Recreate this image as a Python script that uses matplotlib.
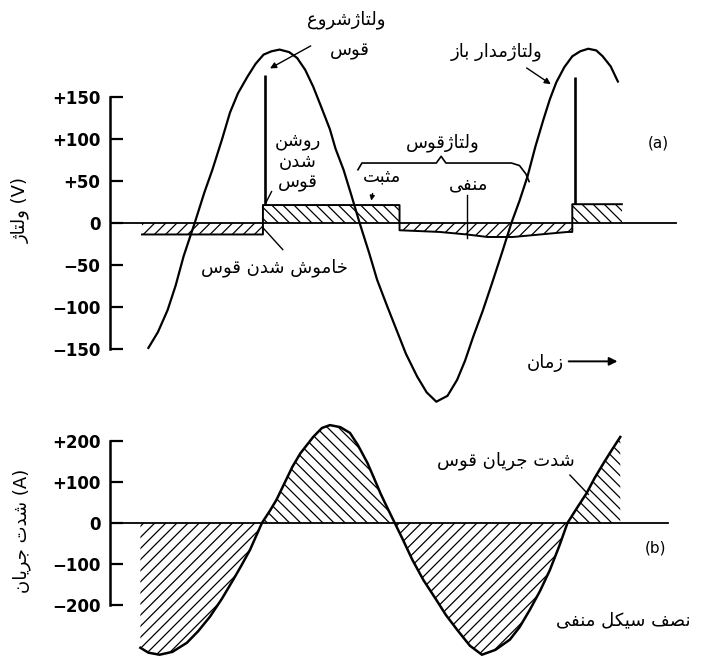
import numpy as np
import matplotlib.pyplot as plt

plt.rcParams['font.family'] = ['DejaVu Sans']
plt.rcParams['hatch.linewidth'] = 0.9

# time axis in ms (no ticks drawn on it)
# open-circuit (supply) voltage, V
t_supply = [2.4, 3.0, 3.6, 4.1, 4.6, 5.3, 5.9, 6.4, 7.0, 7.5, 8.0, 8.6, 9.1, 9.6, 10.1,
            10.6, 11.2, 11.7, 12.2, 12.7, 13.2, 13.75, 14.1, 14.6, 15.1, 15.6,
            16.2, 16.7, 17.3, 17.9, 18.5, 19.2, 19.8, 20.4, 21.1, 21.7, 22.2, 22.7,
            23.3, 23.9, 24.5, 25.1, 25.6, 26.1, 26.6, 27.1, 27.5, 27.9, 28.4, 28.9,
            29.4, 29.9, 30.4, 30.8, 31.3, 31.75]
v_supply = [-149, -130, -104, -75, -40, 0, 36, 63, 99, 131, 154, 174, 189, 200, 204,
            206, 203, 196, 182, 162, 138, 111, 88, 63, 32, 0,
            -36, -68, -98, -127, -156, -183, -202, -213, -206, -187, -164, -136,
            -105, -71, -36, 0, 26, 55, 91, 123, 147, 167, 185, 198,
            204, 207, 205, 198, 186, 168]

# arc voltage, V
t_arc = [2.0, 9.56, 9.56, 18.1, 18.1, 20.6, 22.3, 23.6, 25.2, 26.9, 28.6, 28.9, 28.9, 32.0]
v_arc = [-14, -14, 21, 21, -9, -11, -14, -17, -17, -14, -11, -11, 22, 22]

# re-ignition voltage spikes
t_spike = [9.7, 29.05]
v_spike_base = [21, 22]
v_spike_top = [176, 173]

# arc current, A
t_cur = [1.9, 2.4, 3.1, 3.9, 4.8, 5.5, 6.25, 7.0, 7.7, 8.2, 8.75, 9.5, 10.0, 10.4,
         11.4, 11.9, 12.7, 13.25, 13.75, 14.4, 15.0, 15.5, 16.1, 16.5, 16.9, 17.3,
         17.8, 18.3, 18.9, 19.6, 20.4, 21.0, 21.7, 22.5, 23.25, 24.1, 25.0, 25.6,
         26.25, 26.9, 27.5, 28.1, 28.6, 29.2, 29.8, 30.3, 30.9, 31.4, 31.9]
i_cur = [-305, -317, -322, -315, -293, -265, -229, -185, -139, -105, -66, 0, 30, 56,
         137, 170, 210, 232, 239, 234, 220, 190, 146, 110, 73, 40,
         0, -40, -90, -140, -188, -225, -261, -300, -322, -310, -285, -255,
         -212, -165, -115, -55, 0, 37, 73, 110, 149, 180, 210]

volt_ticks = [-150, -100, -50, 0, 50, 100, 150]
volt_labels = ['−150', '−100', '−50', '0', '+50', '+100', '+150']
cur_ticks = [-200, -100, 0, 100, 200]
cur_labels = ['−200', '−100', '0', '+100', '+200']

# simple persian shaping (matplotlib does no arabic shaping)
FORMS = {
    'ا': (0xFE8D, 0xFE8E), 'د': (0xFEA9, 0xFEAA), 'ر': (0xFEAD, 0xFEAE),
    'ز': (0xFEAF, 0xFEB0), 'ژ': (0xFB8A, 0xFB8B), 'و': (0xFEED, 0xFEEE),
    'ب': (0xFE8F, 0xFE90, 0xFE91, 0xFE92), 'ت': (0xFE95, 0xFE96, 0xFE97, 0xFE98),
    'ث': (0xFE99, 0xFE9A, 0xFE9B, 0xFE9C), 'ج': (0xFE9D, 0xFE9E, 0xFE9F, 0xFEA0),
    'خ': (0xFEA5, 0xFEA6, 0xFEA7, 0xFEA8), 'س': (0xFEB1, 0xFEB2, 0xFEB3, 0xFEB4),
    'ش': (0xFEB5, 0xFEB6, 0xFEB7, 0xFEB8), 'ص': (0xFEB9, 0xFEBA, 0xFEBB, 0xFEBC),
    'ع': (0xFEC9, 0xFECA, 0xFECB, 0xFECC), 'ف': (0xFED1, 0xFED2, 0xFED3, 0xFED4),
    'ق': (0xFED5, 0xFED6, 0xFED7, 0xFED8), 'ل': (0xFEDD, 0xFEDE, 0xFEDF, 0xFEE0),
    'م': (0xFEE1, 0xFEE2, 0xFEE3, 0xFEE4), 'ن': (0xFEE5, 0xFEE6, 0xFEE7, 0xFEE8),
    'ک': (0xFB8E, 0xFB8F, 0xFB90, 0xFB91), 'ی': (0xFBFC, 0xFBFD, 0xFBFE, 0xFBFF),
}


def fa(text):
    out = []
    for i, c in enumerate(text):
        f = FORMS.get(c)
        if f is None:
            out.append(c)
            continue
        prev = text[i - 1] if i > 0 else ''
        nxt = text[i + 1] if i + 1 < len(text) else ''
        jp = prev in FORMS and len(FORMS[prev]) == 4
        jn = len(f) == 4 and nxt in FORMS
        k = 3 if (jp and jn) else 1 if jp else 2 if jn else 0
        out.append(chr(f[k]))
    return ''.join(reversed(out))


fig = plt.figure(figsize=(7.02, 6.58), dpi=100)
ax1 = fig.add_axes([0.1567, 0.3678, 0.826, 0.6322])
ax2 = fig.add_axes([0.1567, 0.0, 0.826, 0.367])

for ax in (ax1, ax2):
    ax.set_facecolor('none')
    for s in ('top', 'right', 'bottom'):
        ax.spines[s].set_visible(False)
    ax.spines['left'].set_linewidth(1.8)
    ax.set_xticks([])
    ax.set_xlim(0, 36.25)
    ax.tick_params(axis='y', direction='in', length=9, width=1.6, labelsize=12, pad=7)
    for lab in ax.get_yticklabels():
        lab.set_fontweight('bold')

# ---- (a) voltage ----
ax1.set_ylim(-230, 265)
ax1.spines['left'].set_bounds(-150, 150)
ax1.set_yticks(volt_ticks)
ax1.set_yticklabels(volt_labels, fontweight='bold')
ax1.plot([0, 35.4], [0, 0], color='black', lw=1.3)

ta = np.array(t_arc)
va = np.array(v_arc)
ax1.fill_between(ta, va, 0, where=va > 0, facecolor='none', edgecolor='black', lw=0, hatch='\\\\\\')
ax1.fill_between(ta, va, 0, where=va < 0, facecolor='none', edgecolor='black', lw=0, hatch='///')
ax1.plot(t_arc, v_arc, color='black', lw=1.4)
ax1.vlines(t_spike, v_spike_base, v_spike_top, color='black', lw=1.9)
ax1.plot(t_supply, v_supply, color='black', lw=1.6)

fs = 13
ax1.text(14.75, 242, fa('ولتاژشروع'), ha='center', va='center', fontsize=fs)
ax1.text(15.0, 204, fa('قوس'), ha='center', va='center', fontsize=fs)
ax1.annotate('', xy=(9.85, 182), xytext=(12.7, 212),
             arrowprops=dict(arrowstyle='-|>', color='black', lw=1.0, mutation_scale=9))
ax1.text(11.75, 72, '\n'.join(fa(w) for w in ['روشن', 'شدن', 'قوس']),
         ha='center', va='center', fontsize=fs, linespacing=1.2, multialignment='center')
ax1.plot([10.1, 9.75], [37, 24], color='black', lw=1.0)
ax1.text(10.3, -53, fa('خاموش شدن قوس'), ha='center', va='center', fontsize=fs)
ax1.plot([9.56, 10.8], [-6, -32], color='black', lw=1.0)
ax1.text(24.2, 204, fa('ولتاژمدار باز'), ha='center', va='center', fontsize=fs)
ax1.annotate('', xy=(27.7, 163), xytext=(25.9, 186),
             arrowprops=dict(arrowstyle='-|>', color='black', lw=1.0, mutation_scale=9))
ax1.text(20.8, 95, fa('ولتاژقوس'), ha='center', va='center', fontsize=fs)
ax1.plot([15.5, 15.75, 20.4, 20.7, 21.0, 25.1, 25.6, 26.0, 26.2],
         [63, 71, 71, 79, 71, 71, 68, 58, 49], color='black', lw=1.2)
ax1.text(17.0, 55, fa('مثبت'), ha='center', va='center', fontsize=fs)
ax1.annotate('', xy=(16.3, 23), xytext=(16.45, 38),
             arrowprops=dict(arrowstyle='-|>', color='black', lw=1.0, mutation_scale=7))
ax1.text(22.4, 45, fa('منفی'), ha='center', va='center', fontsize=fs)
ax1.plot([22.3, 22.3], [33, -18], color='black', lw=1.0)
ax1.text(34.25, 95, '(a)', ha='center', va='center', fontsize=11)
ax1.text(28.4, -167, fa('زمان'), ha='right', va='center', fontsize=fs)
ax1.annotate('', xy=(31.9, -165), xytext=(28.5, -165),
             arrowprops=dict(arrowstyle='-|>', color='black', lw=1.4, mutation_scale=12))
ax1.text(-5.6, 15, fa('ولتاژ') + ' (V)', rotation=90, ha='center', va='center', fontsize=fs)

# ---- (b) current ----
ax2.set_ylim(-330, 260)
ax2.spines['left'].set_bounds(-200, 200)
ax2.set_yticks(cur_ticks)
ax2.set_yticklabels(cur_labels, fontweight='bold')
ax2.plot([-0.2, 34.9], [0, 0], color='black', lw=1.3)

tc = np.array(t_cur)
ic = np.array(i_cur)
ax2.fill_between(tc, ic, 0, where=ic >= 0, facecolor='none', edgecolor='black', lw=0,
                 hatch='\\\\\\', interpolate=True)
ax2.fill_between(tc, ic, 0, where=ic <= 0, facecolor='none', edgecolor='black', lw=0,
                 hatch='///', interpolate=True)
ax2.plot(t_cur, i_cur, color='black', lw=1.8)

ax2.text(24.75, 151, fa('شدت جریان قوس'), ha='center', va='center', fontsize=fs)
ax2.plot([28.75, 29.9], [117, 70], color='black', lw=1.0)
ax2.text(32.1, -237, fa('نصف سیکل منفی'), ha='center', va='center', fontsize=fs)
ax2.text(34.1, -61, '(b)', ha='center', va='center', fontsize=11)
ax2.text(-5.5, -20, fa('شدت جریان') + ' (A)', rotation=90, ha='center', va='center', fontsize=fs)

fig.savefig('out.png', dpi=100, facecolor='white')
